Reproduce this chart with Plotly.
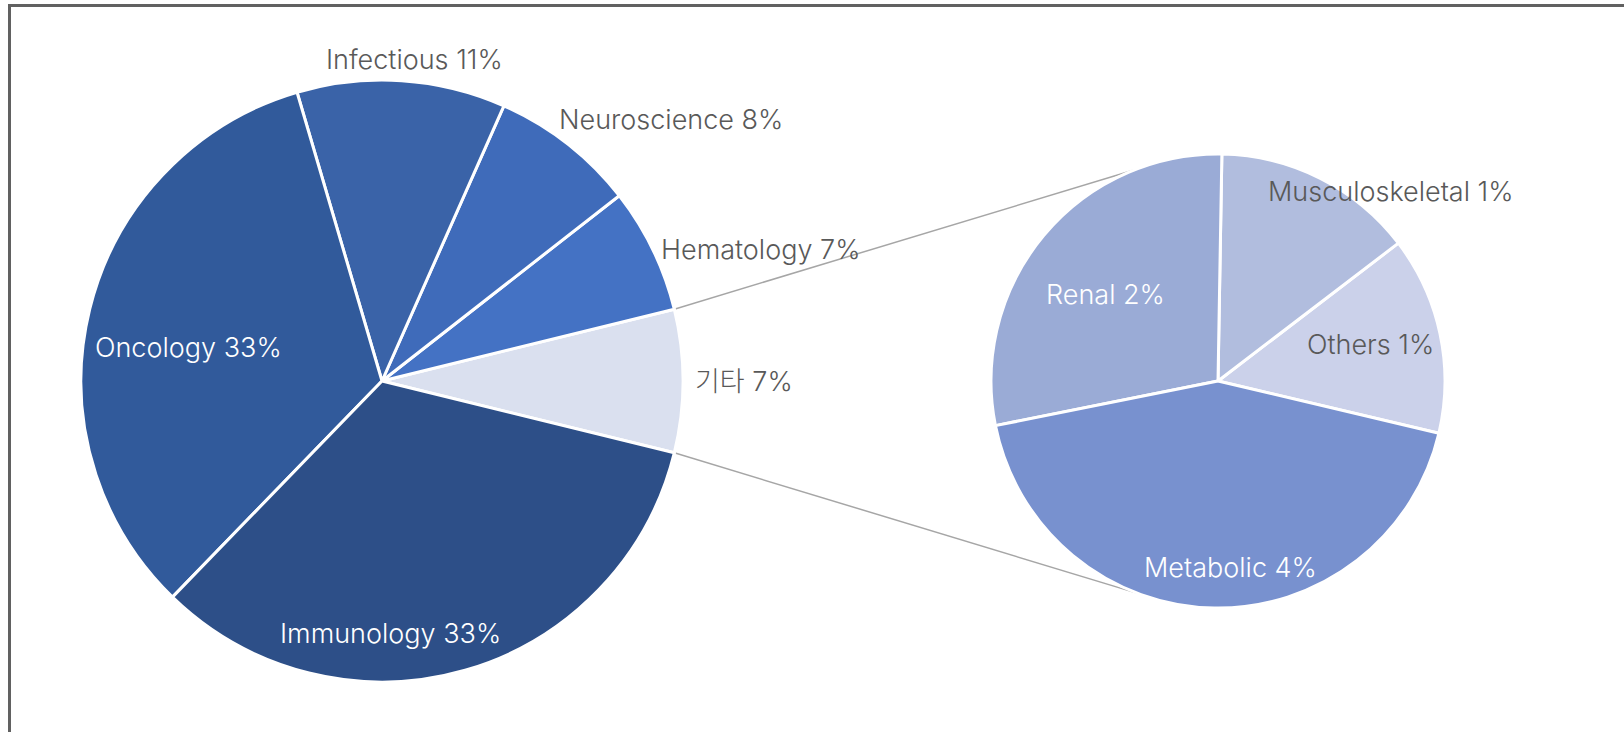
import math
import plotly.graph_objects as go

W, H = 1624, 732

# Main pie (share of total, %)
main_labels = ["기타", "Hematology", "Neuroscience", "Infectious", "Oncology", "Immunology"]
main_values = [7.67, 6.72, 7.81, 11.19, 33.19, 33.42]
main_pct_text = ["7%", "7%", "8%", "11%", "33%", "33%"]
main_colors = ["#DAE0EF", "#4472C4", "#3F6BBA", "#3A63A8", "#315A9B", "#2D4F88"]

# Breakdown of "기타"
sub_labels = ["Others", "Musculoskeletal", "Renal", "Metabolic"]
sub_values = [1.08, 1.10, 2.18, 3.31]
sub_pct_text = ["1%", "1%", "2%", "4%"]
sub_colors = ["#CBD1EA", "#B1BDDE", "#9AABD6", "#7891CF"]

# geometry (pixels)
MC, MR = (382, 381), 301
SC, SR = (1218, 381), 227


def dom(c, r):
    return dict(x=[(c[0] - r) / W, (c[0] + r) / W],
                y=[(H - c[1] - r) / H, (H - c[1] + r) / H])


# plotly: with counterclockwise direction, first slice ends at (90 - rotation) degrees
main_half = main_values[0] / sum(main_values) * 360 / 2
main_rot = 90 - main_half
sub_start = -13.3
sub_rot = 90 - (sub_start + sub_values[0] / sum(sub_values) * 360)

fig = go.Figure()
fig.add_trace(go.Pie(labels=main_labels, values=main_values, sort=False,
                     direction="counterclockwise", rotation=main_rot,
                     marker=dict(colors=main_colors, line=dict(color="white", width=3)),
                     textinfo="none", hoverinfo="label+percent", domain=dom(MC, MR),
                     showlegend=False))
fig.add_trace(go.Pie(labels=sub_labels, values=sub_values, sort=False,
                     direction="counterclockwise", rotation=sub_rot,
                     marker=dict(colors=sub_colors, line=dict(color="white", width=3)),
                     textinfo="none", hoverinfo="label+value", domain=dom(SC, SR),
                     showlegend=False))

# connector lines from edges of "기타" slice to the breakdown pie
half = math.radians(main_half)
p1 = (MC[0] + MR * math.cos(half), MC[1] - MR * math.sin(half))
p2 = (MC[0] + MR * math.cos(half), MC[1] + MR * math.sin(half))
a_up, a_dn = math.radians(111.7), math.radians(-110.7)
q1 = (SC[0] + SR * math.cos(a_up), SC[1] - SR * math.sin(a_up))
q2 = (SC[0] + SR * math.cos(a_dn), SC[1] - SR * math.sin(a_dn))
for a, b in [(p1, q1), (p2, q2)]:
    fig.add_shape(type="line", xref="paper", yref="paper",
                  x0=a[0] / W, y0=1 - a[1] / H, x1=b[0] / W, y1=1 - b[1] / H,
                  line=dict(color="#A6A6A6", width=1.5), layer="below")

# outer border
fig.add_shape(type="rect", xref="paper", yref="paper",
              x0=9.5 / W, y0=1 - 5.5 / H, x1=1.2, y1=-0.2,
              line=dict(color="#616161", width=3), layer="above")

DARK, LIGHT = "#595959", "#FFFFFF"
main_label_pos = [(744, 381), (760, 249), (671, 119), (414, 60), (188, 347), (390, 633)]
main_label_col = [DARK, DARK, DARK, DARK, LIGHT, LIGHT]
sub_label_pos = [(1370, 344), (1391, 191), (1105, 295), (1230, 567)]
sub_label_col = [DARK, DARK, LIGHT, LIGHT]

FONT = "Inter, 'Noto Sans CJK KR', sans-serif"
for lab, pct, pos, col in list(zip(main_labels, main_pct_text, main_label_pos, main_label_col)) + \
        list(zip(sub_labels, sub_pct_text, sub_label_pos, sub_label_col)):
    fig.add_annotation(text=f"{lab} {pct}", x=pos[0] / W, y=1 - pos[1] / H,
                       xref="paper", yref="paper", xanchor="center", yanchor="middle",
                       showarrow=False,
                       font=dict(family=FONT, size=27, color=col, weight=300))

fig.update_layout(width=W, height=H, margin=dict(l=0, r=0, t=0, b=0),
                  paper_bgcolor="white", plot_bgcolor="white")
fig.write_html("out.html", config={"displayModeBar": False},
               post_script="document.body.style.margin='0';")
